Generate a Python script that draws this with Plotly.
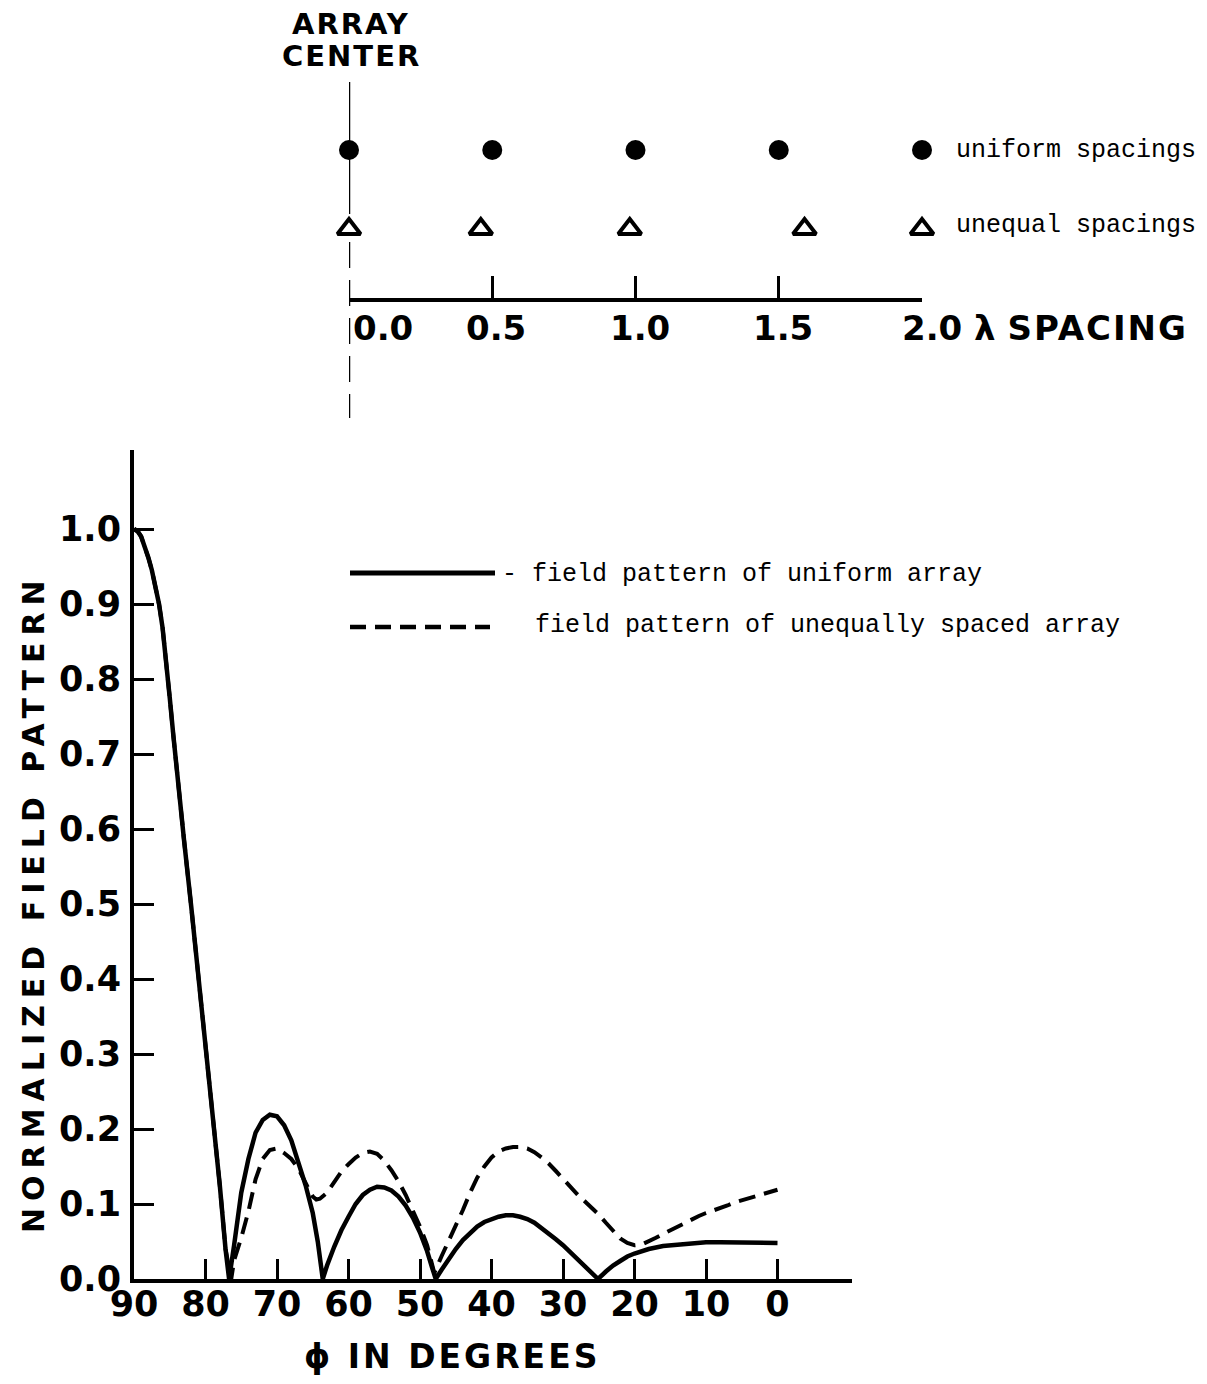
import plotly.graph_objects as go

# ---------------------------------------------------------------------------
# Element positions along the line array, in wavelengths from the array centre
# ---------------------------------------------------------------------------
uniform_spacing = [0.0, 0.5, 1.0, 1.5]
unequal_spacing = [0.0, 0.46, 0.98, 1.59]
spacing_ticks = [0.0, 0.5, 1.0, 1.5, 2.0]
spacing_tick_labels = ["0.0", "0.5", "1.0", "1.5", "2.0"]

# ---------------------------------------------------------------------------
# Normalized field pattern versus angle phi (degrees)
# ---------------------------------------------------------------------------
phi_uniform = [
    90, 89.5, 89, 88.5, 88, 87.5, 87, 86.5, 86, 85.5, 85, 84.5, 84, 83, 82, 81, 80, 79, 78, 77.2, 76.7,
    76, 75, 74, 73, 72, 71, 70, 69, 68, 67, 66, 65, 64.3, 63.6,
    63, 62, 61, 60, 59, 58, 57, 56, 55, 54, 53, 52, 51, 50, 49, 48.3, 47.8,
    47, 46, 45, 44, 43, 42, 41, 40, 39, 38, 37, 36, 35, 34, 33, 32, 31, 30,
    29, 28, 27, 26, 25.1,
    24, 23, 22, 21, 20, 18, 16, 14, 12, 10, 8, 6, 4, 2, 0,
]
field_uniform = [
    1.000, 0.997, 0.990, 0.977, 0.962, 0.945, 0.925, 0.900, 0.868, 0.825, 0.775, 0.725, 0.675, 0.585, 0.497, 0.405, 0.312, 0.228, 0.125, 0.040, 0.000,
    0.045, 0.115, 0.160, 0.195, 0.212, 0.219, 0.217, 0.205, 0.185, 0.155, 0.125, 0.088, 0.050, 0.000,
    0.018, 0.043, 0.065, 0.083, 0.100, 0.112, 0.119, 0.123, 0.122, 0.118, 0.110, 0.098, 0.082, 0.062, 0.037, 0.015, 0.000,
    0.012, 0.027, 0.040, 0.052, 0.062, 0.070, 0.076, 0.080, 0.083, 0.085, 0.085, 0.083, 0.080, 0.075, 0.068, 0.061, 0.053, 0.045,
    0.036, 0.026, 0.016, 0.007, 0.000,
    0.010, 0.018, 0.024, 0.030, 0.034, 0.040, 0.044, 0.046, 0.048, 0.049, 0.049, 0.049, 0.048, 0.048, 0.048,
]

phi_unequal = [
    90, 89.5, 89, 88.5, 88, 87.5, 87, 86.5, 86, 85.5, 85, 84.5, 84, 83, 82, 81, 80, 79, 78, 77.2, 76.4,
    76, 75, 74, 73, 72, 71, 70, 69, 68, 67, 66, 65, 64.5, 64,
    63, 62, 61, 60, 59, 58, 57, 56, 55, 54, 53, 52, 51, 50, 49, 48,
    47, 46, 45, 44, 43, 42, 41, 40, 39, 38, 37, 36, 35, 34, 33, 32, 31, 30,
    29, 28, 27, 26, 25, 24, 23, 22, 21, 20, 19, 18, 17, 16, 15, 14, 13, 12,
    11, 10, 9, 8, 7, 6, 5, 4, 3, 2, 1, 0,
]
field_unequal = [
    1.000, 0.997, 0.990, 0.977, 0.962, 0.945, 0.925, 0.900, 0.868, 0.825, 0.775, 0.725, 0.675, 0.585, 0.497, 0.405, 0.312, 0.228, 0.125, 0.040, 0.000,
    0.025, 0.055, 0.090, 0.133, 0.160, 0.172, 0.174, 0.168, 0.160, 0.147, 0.128, 0.110, 0.106, 0.107,
    0.115, 0.130, 0.143, 0.153, 0.162, 0.168, 0.170, 0.167, 0.158, 0.145, 0.130, 0.112, 0.092, 0.070, 0.045, 0.008,
    0.030, 0.050, 0.070, 0.092, 0.115, 0.135, 0.150, 0.162, 0.170, 0.174, 0.176, 0.176, 0.174, 0.169, 0.162, 0.154, 0.144, 0.133,
    0.122, 0.113, 0.104, 0.095, 0.086, 0.075, 0.064, 0.054, 0.048, 0.045, 0.046, 0.050, 0.055, 0.060, 0.065, 0.070, 0.074, 0.079,
    0.084, 0.088, 0.091, 0.094, 0.098, 0.102, 0.105, 0.108, 0.111, 0.114, 0.117, 0.119,
]

phi_ticks = [90, 80, 70, 60, 50, 40, 30, 20, 10, 0]
phi_tick_labels = ["90", "80", "70", "60", "50", "40", "30", "20", "10", "0"]
field_ticks = [0.0, 0.1, 0.2, 0.3, 0.4, 0.5, 0.6, 0.7, 0.8, 0.9, 1.0]
field_tick_labels = ["0.0", "0.1", "0.2", "0.3", "0.4", "0.5", "0.6", "0.7", "0.8", "0.9", "1.0"]

# ---------------------------------------------------------------------------
# Page geometry (pixels) and helpers to convert into paper fractions
# ---------------------------------------------------------------------------
W, H = 1207, 1384


def fx(px):
    return px / W


def fy(py):
    return 1 - py / H


# pattern plot frame
PX_LEFT, PX_RIGHT = 134, 852
PX_ZERO, PX_TOP = 1279, 450
PX_PER_DEG = 7.15
PX_PER_UNIT = 750.0

# array diagram frame
SP_LEFT, SP_RIGHT = 349, 922
SP_AXIS_Y = 300
DIAG_BOTTOM = 440
ROW_UNIFORM = 150
ROW_UNEQUAL = 229
LABEL_ROW = 328

LETTER = "DejaVu Sans"
TYPE = "Liberation Mono"
INK = "black"


def spaced(text, px):
    return '<span style="letter-spacing:%dpx">%s</span>' % (px, text)


fig = go.Figure()

# field patterns
fig.add_trace(go.Scatter(
    x=phi_unequal, y=field_unequal, mode="lines",
    line=dict(color=INK, width=4, dash="17px,9px"),
    xaxis="x", yaxis="y", showlegend=False, hoverinfo="skip",
))
fig.add_trace(go.Scatter(
    x=phi_uniform, y=field_uniform, mode="lines",
    line=dict(color=INK, width=4.5),
    xaxis="x", yaxis="y", showlegend=False, hoverinfo="skip",
))

# element positions
fig.add_trace(go.Scatter(
    x=uniform_spacing, y=[ROW_UNIFORM] * len(uniform_spacing), mode="markers",
    marker=dict(symbol="circle", size=20, color=INK),
    xaxis="x2", yaxis="y2", showlegend=False, cliponaxis=False, hoverinfo="skip",
))
fig.add_trace(go.Scatter(
    x=unequal_spacing, y=[ROW_UNEQUAL] * len(unequal_spacing), mode="markers",
    marker=dict(symbol="triangle-up-open", size=20, color=INK, line=dict(width=4, color=INK)),
    xaxis="x2", yaxis="y2", showlegend=False, cliponaxis=False, hoverinfo="skip",
))

# key symbols for the diagram
fig.add_trace(go.Scatter(
    x=[2.0], y=[ROW_UNIFORM], mode="markers",
    marker=dict(symbol="circle", size=20, color=INK),
    xaxis="x2", yaxis="y2", showlegend=False, cliponaxis=False, hoverinfo="skip",
))
fig.add_trace(go.Scatter(
    x=[2.0], y=[ROW_UNEQUAL], mode="markers",
    marker=dict(symbol="triangle-up-open", size=20, color=INK, line=dict(width=4, color=INK)),
    xaxis="x2", yaxis="y2", showlegend=False, cliponaxis=False, hoverinfo="skip",
))

shapes = [
    # array centre line
    dict(type="line", xref="x2", yref="y2", x0=0, x1=0, y0=82, y1=214,
         line=dict(color=INK, width=2.5)),
    dict(type="line", xref="x2", yref="y2", x0=0, x1=0, y0=242, y1=418,
         line=dict(color=INK, width=2.5, dash="26px,12px")),
    # pattern key lines
    dict(type="line", xref="paper", yref="paper", x0=fx(350), x1=fx(495), y0=fy(573), y1=fy(573),
         line=dict(color=INK, width=5)),
    dict(type="line", xref="paper", yref="paper", x0=fx(350), x1=fx(490), y0=fy(627), y1=fy(627),
         line=dict(color=INK, width=4.5, dash="16px,9px")),
]

bold = dict(family=LETTER, weight="bold", color=INK)

annotations = [
    dict(text=spaced("NORMALIZED FIELD PATTERN", 7), xref="paper", yref="paper",
         x=fx(33), y=fy(903), textangle=-90, showarrow=False,
         font=dict(size=30, **bold), xanchor="center", yanchor="middle"),
    dict(text=spaced("ϕ IN DEGREES", 3), xref="paper", yref="paper",
         x=fx(452), y=fy(1356), showarrow=False,
         font=dict(size=33, **bold), xanchor="center", yanchor="middle"),
    dict(text=spaced("ARRAY", 2), xref="paper", yref="paper",
         x=fx(351), y=fy(24), showarrow=False,
         font=dict(size=29, **bold), xanchor="center", yanchor="middle"),
    dict(text=spaced("CENTER", 2), xref="paper", yref="paper",
         x=fx(351), y=fy(56), showarrow=False,
         font=dict(size=29, **bold), xanchor="center", yanchor="middle"),
    dict(text="- field pattern of uniform array", xref="paper", yref="paper",
         x=fx(500), y=fy(574), showarrow=False, xanchor="left", yanchor="middle",
         font=dict(family=TYPE, size=25, color=INK)),
    dict(text="field pattern of unequally spaced array", xref="paper", yref="paper",
         x=fx(533), y=fy(625), showarrow=False, xanchor="left", yanchor="middle",
         font=dict(family=TYPE, size=25, color=INK)),
    dict(text="uniform spacings", xref="x2", yref="y2",
         x=2.0, y=ROW_UNIFORM, xshift=32, showarrow=False, xanchor="left", yanchor="middle",
         font=dict(family=TYPE, size=25, color=INK)),
    dict(text="unequal spacings", xref="x2", yref="y2",
         x=2.0, y=ROW_UNEQUAL - 4, xshift=32, showarrow=False, xanchor="left", yanchor="middle",
         font=dict(family=TYPE, size=25, color=INK)),
]

# spacing scale labels
for v, lab in zip(spacing_ticks, spacing_tick_labels):
    if v == spacing_ticks[-1]:
        annotations.append(dict(
            text=lab + " λ " + spaced("SPACING", 2), xref="x2", yref="y2", x=v, y=LABEL_ROW,
            xshift=-22, showarrow=False, xanchor="left", yanchor="middle",
            font=dict(size=34, **bold)))
    elif v == spacing_ticks[0]:
        annotations.append(dict(
            text=lab, xref="x2", yref="y2", x=v, y=LABEL_ROW, xshift=2,
            showarrow=False, xanchor="left", yanchor="middle",
            font=dict(size=34, **bold)))
    else:
        annotations.append(dict(
            text=lab, xref="x2", yref="y2", x=v, y=LABEL_ROW, xshift=4,
            showarrow=False, xanchor="center", yanchor="middle",
            font=dict(size=34, **bold)))

axis_common = dict(
    showline=True, linecolor=INK, linewidth=4, mirror=False,
    showgrid=False, zeroline=False,
    ticks="inside", ticklen=20, tickwidth=3, tickcolor=INK,
    tickfont=dict(size=35, **bold),
)

fig.update_layout(
    width=W, height=H,
    margin=dict(l=0, r=0, t=0, b=0, autoexpand=False),
    paper_bgcolor="white", plot_bgcolor="white",
    showlegend=False,
    xaxis=dict(
        domain=[fx(PX_LEFT), fx(PX_RIGHT)],
        range=[90, 90 - (PX_RIGHT - PX_LEFT) / PX_PER_DEG],
        tickmode="array", tickvals=phi_ticks, ticktext=phi_tick_labels,
        anchor="y", ticklabelstandoff=-9, **axis_common,
    ),
    yaxis=dict(
        domain=[fy(PX_ZERO), fy(PX_TOP)],
        range=[0, (PX_ZERO - PX_TOP) / PX_PER_UNIT],
        tickmode="array", tickvals=field_ticks, ticktext=field_tick_labels,
        anchor="x", ticklabelstandoff=2, **axis_common,
    ),
    xaxis2=dict(
        domain=[fx(SP_LEFT), fx(SP_RIGHT)], range=[0, 2.0],
        anchor="free", position=fy(SP_AXIS_Y),
        showline=True, linecolor=INK, linewidth=4,
        showgrid=False, zeroline=False,
        tickmode="array", tickvals=spacing_ticks, showticklabels=False,
        ticks="inside", ticklen=22, tickwidth=3, tickcolor=INK,
    ),
    yaxis2=dict(
        domain=[fy(DIAG_BOTTOM), 1.0], range=[DIAG_BOTTOM, 0],
        anchor="x2", visible=False,
    ),
    shapes=shapes,
    annotations=annotations,
)

fig.write_html("out.html")
